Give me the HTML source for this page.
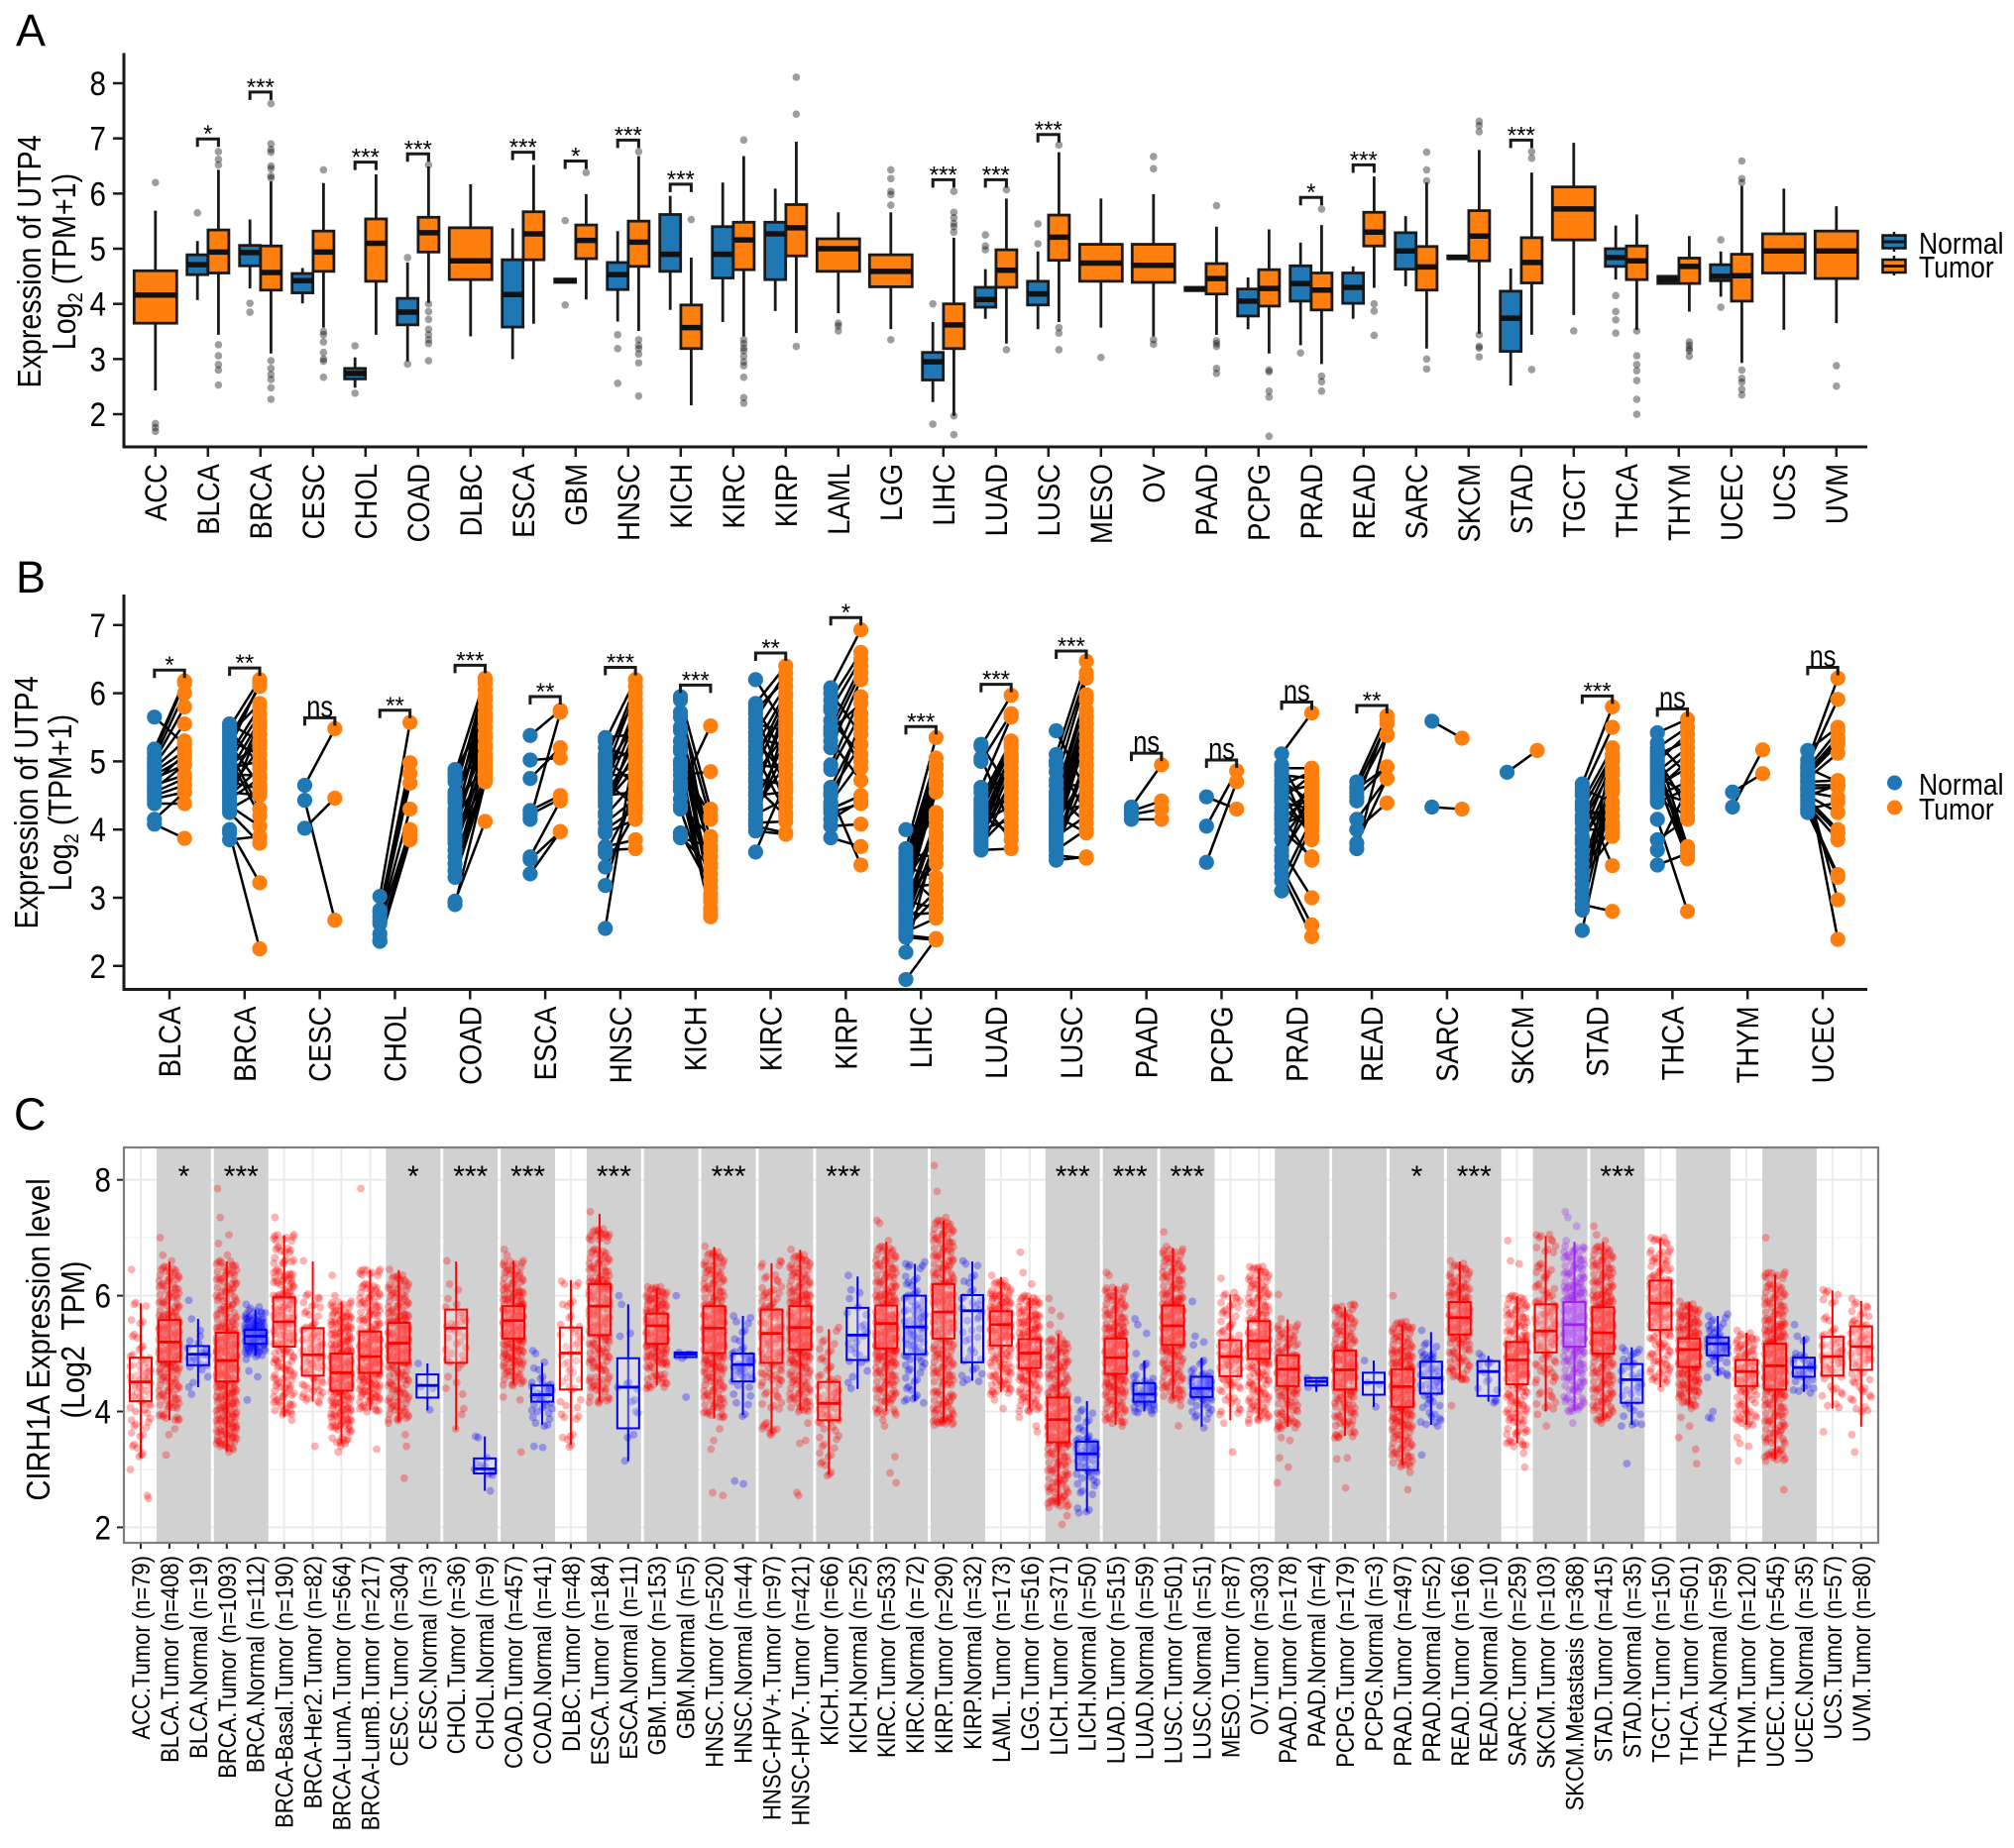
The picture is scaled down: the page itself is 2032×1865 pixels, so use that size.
<!DOCTYPE html>
<html lang="en">
<head>
<meta charset="utf-8">
<title>UTP4 and CIRH1A expression across cancer types</title>
<style>
html,body{margin:0;padding:0;background:#fff}
svg{display:block}
text{font-family:"Liberation Sans",sans-serif;fill:#000}
</style>
</head>
<body>
<svg id="figure" xmlns="http://www.w3.org/2000/svg" width="2032" height="1865" viewBox="0 0 2032 1865">
<rect width="2032" height="1865" fill="#fff"/>
<text x="16" y="46" font-size="45">A</text>
<text x="16" y="598" font-size="45">B</text>
<text x="14" y="1140" font-size="45">C</text>
<text transform="translate(41 264) rotate(-90) scale(.87 1)" text-anchor="middle" font-size="33">Expression of UTP4</text>
<text transform="translate(76 264) rotate(-90) scale(.87 1)" text-anchor="middle" font-size="33">Log<tspan font-size="21" dy="7">2</tspan><tspan dy="-7"> (TPM+1)</tspan></text>
<text transform="translate(38 810) rotate(-90) scale(.87 1)" text-anchor="middle" font-size="33">Expression of UTP4</text>
<text transform="translate(72 810) rotate(-90) scale(.87 1)" text-anchor="middle" font-size="33">Log<tspan font-size="21" dy="7">2</tspan><tspan dy="-7"> (TPM+1)</tspan></text>
<text transform="translate(50 1352) rotate(-90) scale(.87 1)" text-anchor="middle" font-size="33.5">CIRH1A Expression level</text>
<text transform="translate(85 1352) rotate(-90) scale(.87 1)" text-anchor="middle" font-size="33" xml:space="preserve">(Log2  TPM)</text>
<g id="panelA"></g>
<g id="panelB"></g>
<g id="panelC"></g>
<g>
  <g>
    <line x1="1911" x2="1911" y1="234" y2="254" stroke="#111" stroke-width="2.5"/>
    <rect x="1899.5" y="237.5" width="23" height="13" fill="#1f77b4" stroke="#111" stroke-width="2.5"/>
    <line x1="1899" x2="1923" y1="244" y2="244" stroke="#111" stroke-width="3"/>
    <text transform="translate(1936 256) scale(.87 1)" font-size="30.5">Normal</text>
  </g>
  <g>
    <line x1="1911" x2="1911" y1="258" y2="278" stroke="#111" stroke-width="2.5"/>
    <rect x="1899.5" y="262" width="23" height="13" fill="#ff7f0e" stroke="#111" stroke-width="2.5"/>
    <line x1="1899" x2="1923" y1="268.5" y2="268.5" stroke="#111" stroke-width="3"/>
    <text transform="translate(1936 280) scale(.87 1)" font-size="30.5">Tumor</text>
  </g>
</g>
<g>
  <g>
    <circle cx="1911.5" cy="790" r="7.5" fill="#1f77b4"/>
    <text transform="translate(1936 802) scale(.87 1)" font-size="30.5">Normal</text>
  </g>
  <g>
    <circle cx="1911.5" cy="815" r="7.5" fill="#ff7f0e"/>
    <text transform="translate(1936 827) scale(.87 1)" font-size="30.5">Tumor</text>
  </g>
</g>
</svg>
<script>
/* ---------- Panel A data: [whisker low, Q1, median, Q3, whisker high] ---------- */
const categoriesA = ["ACC","BLCA","BRCA","CESC","CHOL","COAD","DLBC","ESCA","GBM","HNSC","KICH","KIRC","KIRP","LAML","LGG","LIHC","LUAD","LUSC","MESO","OV","PAAD","PCPG","PRAD","READ","SARC","SKCM","STAD","TGCT","THCA","THYM","UCEC","UCS","UVM"];
const yTicksA = [2,3,4,5,6,7,8];
const normalStatsA = [null,[4.07,4.53,4.71,4.89,5.14],[4.28,4.69,4.93,5.06,5.53],[4.01,4.2,4.42,4.55,4.65],[2.48,2.64,2.74,2.83,3.03],[2.96,3.62,3.85,4.1,4.75],null,[3.0,3.58,4.17,4.8,5.37],[4.38,4.39,4.42,4.45,4.46],[3.68,4.26,4.53,4.75,5.32],[3.89,4.59,4.9,5.62,5.96],[3.67,4.47,4.9,5.4,6.2],[3.87,4.44,5.27,5.48,6.09],null,null,[2.22,2.62,2.95,3.12,3.67],[3.73,3.94,4.08,4.3,4.63],[3.54,3.98,4.18,4.41,4.95],null,null,[4.23,4.24,4.27,4.3,4.31],[3.54,3.78,4.05,4.27,4.48],[3.25,4.05,4.37,4.69,5.11],[3.73,4.01,4.3,4.56,4.68],[4.32,4.63,4.96,5.29,5.59],[4.81,4.82,4.84,4.87,4.88],[2.52,3.14,3.74,4.23,4.64],null,[4.44,4.68,4.84,5.0,5.42],[4.36,4.37,4.44,4.5,4.52],[4.13,4.42,4.5,4.71,4.95],null,null];
const tumorStatsA = [[2.43,3.65,4.16,4.6,5.69],[3.44,4.56,4.94,5.34,6.43],[3.1,4.25,4.57,5.05,6.22],[3.57,4.59,4.94,5.32,6.19],[3.44,4.41,5.1,5.54,6.35],[4.02,4.94,5.29,5.57,6.49],[3.41,4.44,4.78,5.38,6.17],[3.64,4.8,5.27,5.67,6.52],[4.08,4.82,5.15,5.43,5.99],[3.51,4.68,5.12,5.5,6.68],[2.16,3.19,3.57,3.98,4.84],[3.41,4.62,5.16,5.48,6.68],[3.47,4.87,5.38,5.8,6.94],[3.83,4.59,5.0,5.18,5.66],[3.54,4.31,4.59,4.89,5.66],[1.97,3.19,3.62,4.0,5.2],[3.28,4.3,4.61,4.98,5.91],[3.67,4.79,5.21,5.61,6.75],[3.57,4.41,4.74,5.08,5.91],[3.41,4.39,4.7,5.08,5.99],[3.44,4.18,4.46,4.73,5.4],[3.1,3.96,4.28,4.62,5.35],[2.91,3.89,4.25,4.56,5.43],[4.29,5.05,5.3,5.66,6.31],[3.19,4.25,4.67,5.04,6.2],[3.46,4.78,5.23,5.69,6.79],[3.44,4.38,4.75,5.2,6.38],[3.8,5.16,5.72,6.12,6.92],[3.53,4.44,4.78,5.05,5.62],[3.86,4.37,4.68,4.83,5.23],[2.93,4.05,4.51,4.9,6.14],[3.53,4.56,4.96,5.27,6.09],[3.65,4.46,4.96,5.32,5.77]];
const normalOutliersA = [[],[5.65],[4.01,3.85],[],[3.24,2.38],[4.84,2.91],[],[],[5.51,3.98],[3.44,3.19,2.56],[],[],[],[],[],[4.0,1.82],[5.25,5.05,4.98],[5.45,5.09],[],[],[],[],[3.11],[],[],[],[],[],[4.15,3.86,3.71,3.47],[],[5.16,3.94],[],[]];
const tumorOutliersA = [[6.2,1.83,1.76,1.69],[6.76,6.62,6.52,3.26,3.06,2.9,2.8,2.53],[7.63,6.9,6.8,6.75,6.5,6.45,6.32,6.28,2.97,2.83,2.72,2.63,2.48,2.27],[6.43,3.5,3.44,3.31,3.12,3.0,2.96,2.67],[],[6.52,4.0,3.86,3.72,3.54,3.44,3.35,3.28,2.97],[],[],[6.38],[6.76,3.35,3.25,3.19,3.09,2.93,2.33],[5.53],[6.97,3.35,3.28,3.2,3.15,3.05,2.95,2.88,2.67,2.3,2.2],[8.11,7.44,3.23],[3.65,3.6,3.51],[6.43,6.27,6.04,5.98,5.79,3.35],[6.04,5.66,5.56,5.46,5.4,5.3,1.97,1.63],[6.07,3.17],[6.88,3.57,3.47,3.17],[3.03],[6.67,6.45,3.35,3.27],[5.78,3.33,3.28,3.23,2.83,2.74],[2.8,2.77,2.42,2.31,1.6],[5.72,2.69,2.59,2.42],[4.0,3.87,3.43],[6.75,6.43,6.23,3.0,2.82],[7.31,7.23,7.12,3.44,3.23,3.2,3.04],[6.76,6.64,2.81],[3.51],[3.51,3.06,2.9,2.79,2.61,2.27,2.0],[3.31,3.25,3.19,3.15,3.05],[6.59,6.27,6.2,2.8,2.65,2.58,2.45,2.35],[],[2.88,2.51]];
const sigNamesA = ["BLCA","BRCA","CHOL","COAD","ESCA","GBM","HNSC","KICH","LIHC","LUAD","LUSC","PRAD","READ","STAD"];
const sigLabelsA = ["*","***","***","***","***","*","***","***","***","***","***","*","***","***"];
const sigHeightsA = [6.99,7.84,6.57,6.72,6.75,6.59,6.97,6.17,6.25,6.25,7.07,5.93,6.52,6.97];

/* ---------- Panel B data: paired values (same index = same patient) ---------- */
const categoriesB = ["BLCA","BRCA","CESC","CHOL","COAD","ESCA","HNSC","KICH","KIRC","KIRP","LIHC","LUAD","LUSC","PAAD","PCPG","PRAD","READ","SARC","SKCM","STAD","THCA","THYM","UCEC"];
const yTicksB = [2,3,4,5,6,7];
const normalPairsB = [
[5.65,5.18,5.12,5.05,5.0,4.95,4.9,4.85,4.8,4.75,4.7,4.65,4.6,4.55,4.5,4.45,4.38,4.15,4.08],
[5.55,5.5,5.45,5.4,5.35,5.3,5.25,5.2,5.15,5.1,5.05,5.0,4.95,4.9,4.85,4.8,4.75,4.7,4.65,4.6,4.55,4.5,4.45,4.4,4.35,4.3,4.25,4.0,3.95,3.85],
[4.65,4.43,4.02],
[3.02,2.82,2.78,2.72,2.66,2.62,2.47,2.38,2.36],
[4.88,4.82,4.76,4.7,4.55,4.5,4.45,4.4,4.3,4.25,4.2,4.15,4.1,4.05,4.0,3.95,3.9,3.85,3.8,3.7,3.6,3.5,3.4,3.3,2.95,2.9],
[5.38,5.02,4.75,4.28,4.22,4.15,3.6,3.56,3.35],
[5.35,5.3,5.2,5.1,5.05,5.0,4.95,4.9,4.85,4.8,4.75,4.7,4.65,4.6,4.55,4.5,4.45,4.4,4.35,4.25,4.2,4.1,4.0,3.95,3.75,3.7,3.65,3.45,3.18,2.55],
[5.95,5.9,5.72,5.65,5.45,5.2,5.15,4.95,4.88,4.8,4.65,4.58,4.45,4.35,4.3,3.95,3.9,3.88,4.6,4.7,5.0,5.3,5.5],
[6.2,5.85,5.8,5.75,5.7,5.62,5.55,5.5,5.42,5.35,5.3,5.22,5.15,5.1,5.02,4.95,4.9,4.82,4.75,4.7,4.62,4.55,4.5,4.42,4.35,4.3,4.22,4.15,4.1,4.05,3.98,3.67],
[6.08,6.0,5.9,5.8,5.75,5.6,5.5,5.45,5.4,5.3,5.2,4.95,4.88,4.62,4.55,4.5,4.4,4.35,4.3,4.25,4.15,4.05,3.88],
[4.0,3.72,3.65,3.6,3.55,3.5,3.45,3.4,3.35,3.3,3.25,3.2,3.15,3.1,3.05,3.0,2.95,2.9,2.85,2.8,2.75,2.7,2.65,2.6,2.55,2.5,2.45,2.42,2.2,1.8],
[5.25,5.22,5.05,5.0,4.62,4.55,4.45,4.4,4.35,4.3,4.25,4.2,4.15,4.1,4.05,4.0,3.95,3.9,3.85,3.8,3.75,3.7],
[5.45,5.1,5.0,4.95,4.85,4.72,4.65,4.55,4.5,4.45,4.4,4.35,4.3,4.25,4.2,4.15,4.1,4.05,4.0,3.95,3.9,3.85,3.8,3.75,3.7,3.62,3.55],
[4.33,4.27,4.22,4.15],
[4.48,4.05,3.52],
[5.11,4.95,4.9,4.85,4.8,4.72,4.65,4.6,4.55,4.5,4.45,4.4,4.32,4.25,4.2,4.15,4.08,4.0,3.95,3.85,3.7,3.62,3.55,3.45,3.35,3.25,3.1],
[4.7,4.62,4.55,4.48,4.42,4.15,4.0,3.8,3.72,4.6],
[5.59,4.33],
[4.84],
[4.67,4.6,4.55,4.5,4.4,4.35,4.3,4.2,4.15,4.1,4.0,3.9,3.85,3.8,3.7,3.6,3.5,3.4,3.3,3.2,3.1,3.0,2.9,2.82,2.52],
[5.42,5.27,5.2,5.15,5.1,5.05,5.0,4.95,4.9,4.85,4.8,4.75,4.7,4.65,4.6,4.55,4.5,4.45,4.4,4.15,3.85,3.7,3.48],
[4.55,4.33],
[5.16,5.02,4.95,4.9,4.85,4.8,4.75,4.7,4.65,4.6,4.55,4.5,4.45,4.4,4.35,4.3,4.25,4.6,4.7,4.5,4.3,4.8,4.9]
];
const tumorPairsB = [
[5.25,6.18,6.15,6.0,5.8,5.55,5.3,5.15,5.05,4.95,5.1,4.8,4.95,4.75,4.65,4.55,4.38,4.55,3.87],
[5.3,6.2,4.95,5.85,6.1,5.1,4.65,6.15,4.3,5.8,4.2,5.7,5.25,5.0,5.6,4.8,5.4,4.6,5.55,5.2,4.5,4.9,4.75,5.5,4.05,4.55,3.8,3.22,2.25,3.9],
[5.48,2.67,4.46],
[5.57,4.98,4.82,4.68,4.3,4.0,3.92,3.85,3.85],
[5.6,6.22,5.05,5.95,6.15,5.4,5.8,4.9,6.05,5.2,5.7,4.85,5.9,5.35,5.5,4.95,5.65,4.75,5.25,5.1,4.72,5.0,4.8,4.7,4.12,4.7],
[5.75,5.05,5.2,4.5,4.45,5.72,4.42,3.97,3.97],
[5.4,6.2,5.05,5.9,4.65,6.1,5.2,5.55,6.0,4.8,5.7,4.35,5.8,5.0,5.6,4.55,5.3,4.9,5.15,5.5,4.7,4.45,4.3,4.15,3.85,3.72,4.5,4.25,4.7,5.3],
[4.3,3.5,4.15,2.95,3.85,3.05,3.7,4.2,2.85,4.85,3.35,5.52,3.6,3.9,3.0,3.15,3.45,3.75,2.8,2.75,2.72,3.25,3.6],
[5.5,6.4,5.05,6.2,4.6,6.3,5.45,4.35,6.1,5.22,4.8,6.0,5.7,4.25,5.95,4.9,5.85,5.4,4.65,5.62,4.2,5.8,4.55,5.3,4.95,5.15,4.45,5.55,4.12,3.95,3.93,4.7],
[6.93,5.4,6.6,4.9,6.5,5.1,6.4,5.85,6.3,4.72,6.2,5.95,5.7,5.5,5.25,3.48,5.0,5.6,4.5,4.38,4.42,4.08,3.75],
[4.2,5.35,3.6,5.05,4.25,4.95,3.3,4.9,2.95,4.8,3.95,4.7,3.2,4.65,3.5,4.55,2.85,4.15,3.75,4.05,2.78,3.85,3.1,3.7,3.0,2.7,2.4,2.38,3.9,2.4],
[4.55,5.97,4.05,5.7,5.65,4.8,5.3,3.85,5.25,4.45,5.2,3.95,5.1,4.35,5.05,4.15,5.0,4.7,4.9,4.25,4.65,3.72],
[4.55,6.47,4.25,6.3,5.25,6.22,4.65,5.98,4.1,5.9,5.15,5.75,4.35,5.65,3.95,5.55,4.85,5.45,4.45,5.35,4.2,5.05,4.95,4.75,4.0,3.58,3.6],
[4.95,4.42,4.3,4.15],
[4.3,4.86,4.7],
[5.71,4.2,4.9,3.85,4.75,4.4,4.85,4.1,4.65,3.9,4.8,4.3,4.0,4.55,3.55,4.5,4.25,3.6,4.7,4.45,3.0,4.35,4.6,2.6,2.43,4.15,4.05],
[5.67,5.55,5.38,4.92,5.6,4.75,4.39,4.75,5.4,4.92],
[5.34,4.3],
[5.16],
[5.8,4.4,5.5,3.47,5.2,4.1,5.1,4.3,5.05,4.9,4.0,5.0,4.55,4.8,3.95,4.2,4.7,4.05,3.9,4.6,5.1,4.85,2.8,4.65,4.6],
[5.62,4.8,5.5,3.75,5.3,4.3,5.4,3.7,3.6,5.2,4.5,5.1,3.57,4.9,5.0,4.4,4.7,4.2,4.6,2.8,4.15,4.6,3.65],
[4.82,5.17],
[5.5,6.22,5.91,5.45,5.35,5.25,5.12,4.72,4.65,4.62,4.47,4.25,4.0,3.95,3.85,3.34,3.3,2.97,2.39,4.65,4.4,5.3,4.7]
];
const sigNamesB = ["BLCA","BRCA","CESC","CHOL","COAD","ESCA","HNSC","KICH","KIRC","KIRP","LIHC","LUAD","LUSC","PAAD","PCPG","PRAD","READ","STAD","THCA","UCEC"];
const sigLabelsB = ["*","**","ns","**","***","**","***","***","**","*","***","***","***","ns","ns","ns","**","***","ns","ns"];
const sigHeightsB = [6.34,6.37,5.64,5.75,6.41,5.95,6.38,6.12,6.59,7.11,5.51,6.13,6.62,5.12,5.02,5.87,5.82,5.96,5.77,6.38];

/* ---------- Panel C data ---------- */
const labelsC = ["ACC.Tumor (n=79)","BLCA.Tumor (n=408)","BLCA.Normal (n=19)","BRCA.Tumor (n=1093)","BRCA.Normal (n=112)","BRCA-Basal.Tumor (n=190)","BRCA-Her2.Tumor (n=82)","BRCA-LumA.Tumor (n=564)","BRCA-LumB.Tumor (n=217)","CESC.Tumor (n=304)","CESC.Normal (n=3)","CHOL.Tumor (n=36)","CHOL.Normal (n=9)","COAD.Tumor (n=457)","COAD.Normal (n=41)","DLBC.Tumor (n=48)","ESCA.Tumor (n=184)","ESCA.Normal (n=11)","GBM.Tumor (n=153)","GBM.Normal (n=5)","HNSC.Tumor (n=520)","HNSC.Normal (n=44)","HNSC-HPV+.Tumor (n=97)","HNSC-HPV-.Tumor (n=421)","KICH.Tumor (n=66)","KICH.Normal (n=25)","KIRC.Tumor (n=533)","KIRC.Normal (n=72)","KIRP.Tumor (n=290)","KIRP.Normal (n=32)","LAML.Tumor (n=173)","LGG.Tumor (n=516)","LICH.Tumor (n=371)","LICH.Normal (n=50)","LUAD.Tumor (n=515)","LUAD.Normal (n=59)","LUSC.Tumor (n=501)","LUSC.Normal (n=51)","MESO.Tumor (n=87)","OV.Tumor (n=303)","PAAD.Tumor (n=178)","PAAD.Normal (n=4)","PCPG.Tumor (n=179)","PCPG.Normal (n=3)","PRAD.Tumor (n=497)","PRAD.Normal (n=52)","READ.Tumor (n=166)","READ.Normal (n=10)","SARC.Tumor (n=259)","SKCM.Tumor (n=103)","SKCM.Metastasis (n=368)","STAD.Tumor (n=415)","STAD.Normal (n=35)","TGCT.Tumor (n=150)","THCA.Tumor (n=501)","THCA.Normal (n=59)","THYM.Tumor (n=120)","UCEC.Tumor (n=545)","UCEC.Normal (n=35)","UCS.Tumor (n=57)","UVM.Tumor (n=80)"];
const yTicksC = [2,4,6,8];
const minorTicksC = [3,5,7];
const statsC = [[3.2,4.18,4.51,4.93,5.87],[3.85,4.86,5.2,5.58,6.59],[4.42,4.8,4.99,5.13,5.6],[3.31,4.52,4.88,5.36,6.59],[4.96,5.17,5.3,5.41,5.76],[3.91,5.12,5.55,5.97,7.04],[4.17,4.62,4.98,5.44,6.59],[3.45,4.36,4.67,5.0,5.9],[4.02,4.67,4.95,5.38,6.44],[3.82,4.84,5.18,5.53,6.44],[4.02,4.24,4.45,4.64,4.83],[3.68,4.84,5.44,5.76,6.59],[2.63,2.93,3.01,3.19,3.57],[4.48,5.26,5.57,5.82,6.6],[3.77,4.17,4.29,4.45,4.84],[3.42,4.38,5.01,5.45,6.27],[4.17,5.32,5.82,6.2,7.41],[3.14,3.71,4.42,4.92,5.85],[4.45,5.17,5.48,5.69,6.13],[4.92,4.94,4.99,5.02,5.03],[3.88,5.01,5.44,5.82,6.84],[3.94,4.52,4.81,5.0,5.65],[3.62,4.84,5.35,5.76,6.56],[4.02,5.07,5.45,5.82,6.79],[2.91,3.85,4.14,4.51,5.42],[4.39,4.89,5.32,5.79,6.33],[4.0,5.09,5.52,5.83,6.93],[4.18,4.99,5.46,6.0,6.55],[3.82,5.26,5.72,6.2,7.3],[4.53,4.85,5.74,6.01,6.59],[4.34,5.14,5.5,5.73,6.32],[4.05,4.75,5.01,5.25,5.96],[2.38,3.47,3.86,4.24,5.34],[2.27,2.99,3.27,3.48,4.18],[3.77,4.65,4.93,5.26,6.16],[4.0,4.17,4.3,4.49,4.88],[4.22,5.15,5.48,5.83,6.82],[3.74,4.25,4.4,4.6,4.93],[3.85,4.61,4.95,5.23,6.02],[3.88,4.91,5.22,5.56,6.47],[3.74,4.44,4.73,4.97,5.59],[4.34,4.45,4.52,4.58,4.59],[3.58,4.38,4.72,5.05,5.8],[4.08,4.29,4.5,4.67,4.88],[3.08,4.08,4.43,4.73,5.5],[3.77,4.31,4.58,4.86,5.37],[4.56,5.33,5.62,5.89,6.59],[4.17,4.27,4.69,4.87,4.96],[3.45,4.47,4.89,5.2,5.99],[4.0,5.02,5.39,5.85,7.03],[4.02,5.12,5.5,5.89,6.93],[3.85,5.0,5.36,5.8,6.93],[3.77,4.15,4.55,4.82,5.11],[4.42,5.41,5.87,6.26,6.99],[4.11,4.77,5.07,5.26,5.89],[4.62,4.97,5.17,5.28,5.65],[3.77,4.44,4.69,4.89,5.36],[3.18,4.38,4.79,5.17,6.36],[4.34,4.6,4.76,4.93,5.29],[4.05,4.62,4.95,5.29,6.09],[3.74,4.72,5.12,5.47,5.91]];
const pointsC = [
[6.45,5.85,5.55,5.3,5.1,4.95,4.85,4.75,4.65,4.55,4.5,4.4,4.3,4.2,4.1,4.0,3.85,3.75,3.6,3.4,3.25,3.0,2.55,2.5],
[7.0,6.7,6.6,6.45,6.3,6.15,6.0,5.85,5.7,5.6,5.5,5.4,5.3,5.2,5.1,5.0,4.9,4.8,4.7,4.55,4.4,4.25,4.1,3.9,3.7,3.6,3.25],
[5.92,5.6,5.3,5.22,5.18,5.1,5.05,5.0,4.98,4.95,4.9,4.85,4.8,4.72,4.6,4.5,4.42,4.3,5.4],
[7.85,7.35,7.05,6.9,6.7,6.55,6.4,6.25,6.1,5.95,5.8,5.65,5.5,5.4,5.3,5.2,5.1,5.0,4.9,4.8,4.7,4.6,4.5,4.4,4.3,4.2,4.1,4.0,3.9,3.8,3.7,3.6,3.5,3.4,3.3],
[5.85,5.75,5.65,5.6,5.55,5.5,5.45,5.4,5.35,5.3,5.25,5.2,5.15,5.1,5.05,5.0,4.9,4.7,4.6,4.2],
[7.35,7.05,7.0,6.8,6.6,6.4,6.3,6.2,6.05,5.95,5.8,5.65,5.5,5.35,5.2,5.05,4.9,4.75,4.6,4.45,4.3,4.15,4.0,3.85],
[6.6,6.0,5.85,5.7,5.5,5.4,5.3,5.2,5.1,5.0,4.9,4.8,4.7,4.6,4.5,4.4,4.3,4.2,3.4],
[6.35,6.0,5.85,5.7,5.6,5.5,5.4,5.3,5.2,5.1,5.0,4.9,4.8,4.7,4.6,4.5,4.4,4.3,4.2,4.1,4.0,3.9,3.8,3.7,3.5,3.4,3.3],
[7.85,6.45,6.4,6.15,6.0,5.85,5.7,5.55,5.4,5.3,5.2,5.1,5.0,4.9,4.8,4.7,4.6,4.5,4.4,4.3,4.2,4.05,3.35],
[6.45,6.3,6.15,6.0,5.85,5.7,5.6,5.5,5.4,5.3,5.2,5.1,5.0,4.9,4.8,4.65,4.5,4.35,4.2,4.05,3.9,3.8,3.6,3.4,2.85],
[4.83,4.43,4.03],
[6.6,6.2,6.1,5.95,5.85,5.8,5.7,5.6,5.55,5.5,5.45,5.4,5.3,5.2,5.1,5.0,4.9,4.85,4.75,4.6,4.5,4.4,4.3,4.05,3.95,3.7],
[3.57,3.55,3.2,3.1,3.05,3.0,2.95,2.9,2.63],
[6.8,6.7,6.55,6.4,6.25,6.1,6.0,5.9,5.8,5.7,5.6,5.5,5.4,5.3,5.2,5.1,5.0,4.9,4.8,4.65,4.5,4.25,4.2,3.3],
[5.05,5.0,4.85,4.75,4.6,4.5,4.45,4.4,4.35,4.3,4.25,4.2,4.15,4.1,4.05,4.0,3.9,3.8,3.75,3.4,3.38],
[6.25,6.2,5.9,5.85,5.65,5.5,5.4,5.3,5.15,5.0,4.85,4.7,4.55,4.4,4.2,4.1,3.95,3.9,3.6,3.55,3.42],
[7.45,7.1,7.0,6.75,6.6,6.45,6.3,6.2,6.1,5.95,5.8,5.65,5.5,5.35,5.2,5.05,4.9,4.75,4.55,4.4,4.2],
[6.0,5.85,5.35,5.3,4.5,4.42,4.2,4.0,3.6,3.55,3.15],
[6.15,6.1,6.0,5.9,5.8,5.7,5.6,5.5,5.4,5.3,5.2,5.1,5.0,4.9,4.8,4.6,4.45],
[6.0,5.02,4.99,4.95,4.25],
[6.85,6.7,6.55,6.4,6.25,6.1,5.95,5.8,5.7,5.6,5.5,5.4,5.3,5.2,5.1,5.0,4.9,4.8,4.7,4.55,4.4,4.25,4.1,3.95,3.7,3.5,3.35,2.6,2.55],
[5.65,5.55,5.4,5.25,5.1,5.0,4.95,4.9,4.85,4.8,4.75,4.7,4.65,4.6,4.55,4.45,4.3,4.15,3.95,2.8,2.75],
[6.55,6.3,6.1,6.0,5.85,5.75,5.65,5.5,5.4,5.3,5.2,5.05,4.95,4.85,4.7,4.6,4.5,4.3,4.1,3.75,3.65],
[6.8,6.65,6.5,6.35,6.2,6.05,5.95,5.85,5.75,5.6,5.5,5.4,5.3,5.2,5.1,5.0,4.9,4.8,4.65,4.5,4.35,4.2,4.05,3.8,3.5,3.45,2.6,2.55],
[5.42,5.2,5.05,4.9,4.75,4.6,4.5,4.4,4.3,4.2,4.15,4.1,4.0,3.9,3.85,3.7,3.55,3.4,3.25,3.1,2.92],
[6.35,6.1,6.05,5.95,5.8,5.7,5.5,5.4,5.3,5.2,5.1,5.0,4.9,4.85,4.7,4.6,4.5,4.4],
[7.3,7.25,6.95,6.8,6.65,6.5,6.35,6.2,6.05,5.95,5.85,5.7,5.6,5.5,5.4,5.3,5.2,5.1,5.0,4.9,4.8,4.65,4.5,4.35,4.2,4.0,3.85,3.75,3.22,2.94,2.77],
[6.55,6.5,6.3,6.2,6.05,5.95,5.8,5.7,5.6,5.5,5.4,5.3,5.2,5.1,5.0,4.9,4.8,4.7,4.55,4.4,4.25,4.18],
[8.25,7.8,7.35,7.25,7.1,6.95,6.8,6.65,6.5,6.35,6.2,6.05,5.95,5.85,5.7,5.55,5.4,5.25,5.1,4.95,4.8,4.65,4.5,4.3,4.15,4.0,3.85,3.82],
[6.6,6.55,6.35,6.25,6.1,5.95,5.85,5.75,5.6,5.4,5.25,5.05,4.9,4.75,4.65,4.55,4.5],
[6.35,6.2,6.05,5.95,5.85,5.75,5.65,5.55,5.45,5.35,5.25,5.1,4.95,4.8,4.65,4.5,4.35,4.2,4.05],
[6.75,6.4,6.2,5.95,5.85,5.7,5.6,5.5,5.4,5.3,5.2,5.1,5.0,4.9,4.8,4.7,4.6,4.5,4.35,4.2,4.05,3.9,3.75,3.65],
[5.95,5.75,5.65,5.5,5.35,5.2,5.05,4.9,4.75,4.6,4.45,4.3,4.2,4.1,4.0,3.9,3.8,3.7,3.6,3.5,3.4,3.25,3.1,2.95,2.8,2.65,2.5,2.4,2.2,2.05],
[4.2,4.0,3.85,3.7,3.55,3.5,3.45,3.4,3.35,3.3,3.25,3.2,3.1,3.0,2.95,2.85,2.75,2.6,2.3,2.25],
[6.4,6.35,6.1,5.95,5.8,5.65,5.5,5.4,5.3,5.2,5.1,5.0,4.9,4.8,4.7,4.6,4.5,4.4,4.3,4.15,4.0,3.85,3.75],
[5.6,5.5,5.35,5.0,4.8,4.6,4.5,4.45,4.4,4.35,4.3,4.25,4.2,4.15,4.1,4.05,4.0,3.98],
[7.1,6.85,6.75,6.6,6.45,6.3,6.15,6.0,5.9,5.8,5.7,5.6,5.5,5.4,5.3,5.2,5.1,5.0,4.85,4.7,4.55,4.4,4.25,4.1,3.75],
[5.9,5.3,5.2,5.15,4.85,4.7,4.6,4.55,4.5,4.45,4.4,4.35,4.3,4.25,4.2,4.1,4.0,3.9,3.72],
[6.3,6.0,5.85,5.7,5.5,5.35,5.2,5.1,5.0,4.95,4.85,4.75,4.6,4.5,4.4,4.2,4.0,3.8,3.3],
[6.5,6.45,6.3,6.15,6.0,5.85,5.7,5.55,5.4,5.3,5.2,5.1,5.0,4.9,4.8,4.65,4.5,4.35,4.2,4.05,3.9,3.8],
[6.02,5.6,5.45,5.3,5.15,5.0,4.9,4.8,4.7,4.6,4.5,4.4,4.3,4.15,4.0,3.85,3.75,3.55,3.5,3.2,3.04,2.77],
[4.58,4.54,4.5,4.42],
[5.8,5.65,5.5,5.35,5.2,5.05,4.95,4.85,4.75,4.65,4.55,4.4,4.25,4.1,3.95,3.8,3.6,3.55,3.2,3.18,2.68],
[4.88,4.5,4.08],
[6.0,5.5,5.4,5.25,5.1,5.0,4.9,4.8,4.7,4.6,4.5,4.4,4.3,4.2,4.1,4.0,3.9,3.8,3.7,3.55,3.4,3.25,3.1,2.95,2.65],
[5.4,5.15,5.0,4.95,4.9,4.8,4.7,4.6,4.5,4.4,4.3,4.2,4.1,3.95,3.85,3.78,3.25],
[6.6,6.5,6.35,6.2,6.1,6.0,5.9,5.8,5.7,5.6,5.5,5.4,5.3,5.2,5.05,4.9,4.75,4.6,4.55,4.1],
[5.0,4.95,4.85,4.7,4.55,4.4,4.2,4.18,4.15,4.85],
[6.95,6.6,6.55,5.95,5.8,5.65,5.5,5.35,5.2,5.1,5.0,4.9,4.8,4.7,4.6,4.45,4.3,4.15,4.0,3.85,3.65,3.45,3.28,3.04],
[7.05,7.0,6.8,6.5,6.35,6.15,6.0,5.85,5.7,5.55,5.4,5.3,5.15,5.0,4.85,4.7,4.55,4.3,4.1,3.95,3.75],
[7.45,7.35,7.2,6.95,6.8,6.65,6.5,6.35,6.2,6.1,6.0,5.9,5.8,5.7,5.6,5.5,5.4,5.3,5.2,5.1,5.0,4.85,4.7,4.55,4.4,4.2,4.05,3.8],
[7.2,7.05,6.95,6.8,6.65,6.5,6.35,6.2,6.05,5.95,5.85,5.75,5.65,5.55,5.45,5.35,5.25,5.15,5.05,4.95,4.8,4.65,4.5,4.35,4.2,4.05,3.9,3.8],
[5.1,5.05,5.0,4.9,4.8,4.7,4.6,4.5,4.4,4.3,4.15,4.05,3.95,3.8,3.78,3.1],
[7.0,6.95,6.75,6.6,6.45,6.3,6.2,6.1,6.0,5.9,5.8,5.7,5.6,5.45,5.3,5.15,5.0,4.85,4.7,4.55,4.4],
[5.9,5.8,5.7,5.6,5.5,5.4,5.3,5.2,5.1,5.0,4.9,4.8,4.7,4.6,4.5,4.4,4.3,4.15,4.05,3.9,3.75,3.55,3.35,3.1],
[5.65,5.55,5.45,5.4,5.3,5.25,5.2,5.15,5.1,5.05,5.0,4.95,4.85,4.7,4.62,4.0,3.9,3.88],
[5.4,5.3,5.2,5.1,5.0,4.9,4.8,4.7,4.6,4.5,4.4,4.3,4.15,4.0,3.9,3.8,3.55,3.45,3.4,3.15],
[7.0,6.4,6.35,6.15,6.0,5.85,5.7,5.55,5.45,5.35,5.25,5.15,5.05,4.95,4.85,4.75,4.65,4.55,4.45,4.35,4.25,4.1,3.95,3.8,3.65,3.5,3.3,3.2,2.65],
[5.5,5.3,5.25,5.0,4.95,4.9,4.85,4.8,4.75,4.7,4.65,4.6,4.55,4.45,4.4,4.35],
[6.1,6.05,5.9,5.6,5.4,5.3,5.2,5.1,5.0,4.9,4.8,4.7,4.6,4.4,4.3,4.1,3.65],
[5.95,5.85,5.7,5.55,5.45,5.35,5.25,5.15,5.05,4.95,4.85,4.7,4.55,4.4,4.25,4.05,3.6,3.3]
];
const bandNamesC = ["BLCA","BRCA","CESC","CHOL","COAD","ESCA","GBM","HNSC","HNSC-HPV","KICH","KIRC","KIRP","LICH","LUAD","LUSC","PAAD","PCPG","PRAD","READ","SKCM","STAD","THCA","UCEC"];
const bandFirstC = [1,3,9,11,13,16,18,20,22,24,26,28,32,34,36,40,42,44,46,49,51,54,57];
const sigBandNamesC = ["BLCA","BRCA","CESC","CHOL","COAD","ESCA","HNSC","KICH","LICH","LUAD","LUSC","PRAD","READ","STAD"];
const sigBandLabelsC = ["*","***","*","***","***","***","***","***","***","***","***","*","***","***"];

/* ---------- Drawing ---------- */
const NS = 'http://www.w3.org/2000/svg';
function add(parent, tag, attrs, txt){
  const el = document.createElementNS(NS, tag);
  for (const k in attrs) el.setAttribute(k, attrs[k]);
  if (txt !== undefined) el.textContent = txt;
  parent.appendChild(el);
  return el;
}
const INK = '#1a1a1a';
const BLUE = '#1f77b4';
const ORANGE = '#ff7f0e';

/* Shared axes for panels A and B */
function drawAxes(g, prefix, left, right, top, bottom, yScale, yTicks, xScale, cats){
  let el = add(g,'line',{x1:left,x2:left,y1:top,y2:bottom+1.5,stroke:INK,'stroke-width':3});
  
  
  el = add(g,'line',{x1:left-1.5,x2:right,y1:bottom,y2:bottom,stroke:INK,'stroke-width':3});
  
  
  yTicks.forEach(function(t){
    let m = add(g,'line',{x1:left-11,x2:left,y1:yScale(t),y2:yScale(t),stroke:INK,'stroke-width':2.5});
    
    
    let l = add(g,'text',{transform:'translate('+(left-18)+' '+(yScale(t)+12)+') scale(.87 1)','text-anchor':'end','font-size':34},String(t));
    
    
  });
  cats.forEach(function(c,i){
    let m = add(g,'line',{x1:xScale(i),x2:xScale(i),y1:bottom,y2:bottom+10,stroke:INK,'stroke-width':2.5});
    
    
    let l = add(g,'text',{transform:'translate('+(xScale(i)+11)+' '+(bottom+17)+') rotate(-90) scale(.87 1)','text-anchor':'end','font-size':31.6},c);
    
    
  });
}

/* Significance bracket for panels A and B */
function drawBracket(g, prefix, cx, half, yTop, label){
  let b = add(g,'path',{d:'M'+(cx-half)+' '+(yTop+8)+'V'+yTop+'H'+(cx+half)+'V'+(yTop+8),fill:'none',stroke:INK,'stroke-width':3});
  
  
  const ns = label === 'ns';
  let t = add(g,'text',{transform:'translate('+cx+' '+(ns?yTop-1:yTop+3)+') scale('+(ns?.82:1)+' 1)','text-anchor':'middle','font-size':ns?31:24,fill:'#111'},label);
  
  
}

/* ---- Panel A ---- */
const yA = function(v){ return 84 + (8 - v) * 55.67; };
const xA = function(i){ return 156.8 + i * 53.0; };
function drawBoxA(g, cx, w, s, fill, name){
  const lo=s[0],q1=s[1],med=s[2],q3=s[3],hi=s[4];
  let e = add(g,'line',{x1:cx,x2:cx,y1:yA(hi),y2:yA(lo),stroke:INK,'stroke-width':2.8});
  
  
  e = add(g,'rect',{x:cx-w/2,y:yA(q3),width:w,height:Math.max(1,yA(q1)-yA(q3)),fill:fill,stroke:INK,'stroke-width':2.8});
  
  
  e = add(g,'line',{x1:cx-w/2,x2:cx+w/2,y1:yA(med),y2:yA(med),stroke:'#111','stroke-width':5.5});
  
  
}
function drawOutliersA(g, cx, vals, name){
  vals.forEach(function(v){
    let d = add(g,'circle',{cx:cx,cy:yA(v),r:3.8,fill:'#000','fill-opacity':0.38});
    
    
  });
}
(function(){
  const g = document.getElementById('panelA');
  drawAxes(g,'panel-a',125,1884,53.5,451,yA,yTicksA,xA,categoriesA);
  categoriesA.forEach(function(c,i){
    const n = normalStatsA[i], t = tumorStatsA[i], low = c.toLowerCase();
    const cg = add(g,'g',{});
    
    
    if (n) {
      drawOutliersA(cg, xA(i)-10.6, normalOutliersA[i], low + '-normal');
      drawBoxA(cg, xA(i)-10.6, 21, n, BLUE, low + '-normal');
      drawOutliersA(cg, xA(i)+10.6, tumorOutliersA[i], low + '-tumor');
      drawBoxA(cg, xA(i)+10.6, 21, t, ORANGE, low + '-tumor');
    } else {
      drawOutliersA(cg, xA(i), tumorOutliersA[i], low + '-tumor');
      drawBoxA(cg, xA(i), 43, t, ORANGE, low + '-tumor');
    }
  });
  sigNamesA.forEach(function(c,k){
    drawBracket(g,'panel-a',xA(categoriesA.indexOf(c)),10.6,yA(sigHeightsA[k]),sigLabelsA[k]);
  });
})();

/* ---- Panel B ---- */
const yB = function(v){ return 630.8 + (7 - v) * 68.8; };
const xB = function(i){ return 171 + i * 75.82; };
(function(){
  const g = document.getElementById('panelB');
  drawAxes(g,'panel-b',125,1884,600,998.5,yB,yTicksB,xB,categoriesB);
  categoriesB.forEach(function(c,i){
    const low = c.toLowerCase();
    const nx = xB(i)-15.2, tx = xB(i)+15.2;
    const cg = add(g,'g',{});
    
    
    normalPairsB[i].forEach(function(v,k){
      let l = add(cg,'line',{x1:nx,x2:tx,y1:yB(v),y2:yB(tumorPairsB[i][k]),stroke:'#000','stroke-width':2.5});
      
      
    });
    normalPairsB[i].forEach(function(v){
      let d = add(cg,'circle',{cx:nx,cy:yB(v),r:7.6,fill:BLUE});
      
      
    });
    tumorPairsB[i].forEach(function(v){
      let d = add(cg,'circle',{cx:tx,cy:yB(v),r:7.6,fill:ORANGE});
      
      
    });
  });
  sigNamesB.forEach(function(c,k){
    drawBracket(g,'panel-b',xB(categoriesB.indexOf(c)),15.2,yB(sigHeightsB[k]),sigLabelsB[k]);
  });
})();

/* ---- Panel C ---- */
const yC = function(v){ return 1190.7 + (8 - v) * 58.45; };
const xC = function(i){ return 142 + i * 28.93; };
const JITTER_X = [-.85,.35,-.3,.7,.05,-.6,.9,-.15,.5,-.95,.2,-.45,.8,-.05,.6,-.75];
const JITTER_Y = [0,1.8,-1.8,3.2,-3.2,.9,-.9,2.5,-2.5,0];
(function(){
  const g = document.getElementById('panelC');
  let e = add(g,'rect',{x:125,y:1158,width:1770,height:399,fill:'#fff'});
  
  
  minorTicksC.forEach(function(t){
    let l = add(g,'line',{x1:125,x2:1895,y1:yC(t),y2:yC(t),stroke:'#f2f2f2','stroke-width':1.5});
    
    
  });
  yTicksC.forEach(function(t){
    let l = add(g,'line',{x1:125,x2:1895,y1:yC(t),y2:yC(t),stroke:'#ebebeb','stroke-width':2});
    
    
  });
  labelsC.forEach(function(c,i){
    let l = add(g,'line',{x1:xC(i),x2:xC(i),y1:1158,y2:1557,stroke:'#ebebeb','stroke-width':2});
    
    
  });
  bandNamesC.forEach(function(c,k){
    const f = bandFirstC[k];
    let r = add(g,'rect',{x:xC(f)-13,y:1159,width:28.93+26,height:397,fill:'#d1d1d1'});
    
    
  });
  labelsC.forEach(function(c,i){
    const key = c.split(' ')[0];
    const low = key.toLowerCase().replace(/[.+]/g,'-');
    const col = key.indexOf('Metastasis') > -1 ? '#a020f0' : (key.indexOf('Normal') > -1 ? '#0000ff' : '#ff0000');
    const n = parseInt(c.match(/n=(\d+)/)[1], 10);
    const vals = pointsC[i];
    const s = statsC[i];
    const base = Math.max(1, Math.min(9, Math.round(n / vals.length)));
    const cg = add(g,'g',{});
    
    
    vals.forEach(function(v,k){
      /* denser rows inside the box, lighter in the tails, single dots for outliers */
      let copies = 1;
      if (v >= s[1] && v <= s[3]) copies = Math.round(base * 1.5);
      else if (v >= s[0] && v <= s[4]) copies = base;
      for (let j = 0; j < copies; j++) {
        const seq = k * 5 + j * 3;
        let d = add(cg,'circle',{cx:xC(i)+JITTER_X[seq%16]*11,cy:yC(v)+(copies>1?JITTER_Y[j%10]:0),r:3.9,fill:col,'fill-opacity':0.3});
        
        
      }
    });
    let w = add(cg,'line',{x1:xC(i),x2:xC(i),y1:yC(s[4]),y2:yC(s[0]),stroke:col,'stroke-width':2});
    
    
    let b = add(cg,'rect',{x:xC(i)-11,y:yC(s[3]),width:22,height:yC(s[1])-yC(s[3]),fill:'#fff','fill-opacity':0.28,stroke:col,'stroke-width':2});
    
    
    let m = add(cg,'line',{x1:xC(i)-11,x2:xC(i)+11,y1:yC(s[2]),y2:yC(s[2]),stroke:col,'stroke-width':2.8});
    
    
    let tk = add(g,'line',{x1:xC(i),x2:xC(i),y1:1557,y2:1563,stroke:'#222','stroke-width':2});
    
    
    let tl = add(g,'text',{transform:'translate('+(xC(i)+9)+' 1570) rotate(-90) scale(.87 1)','text-anchor':'end','font-size':25.3},c);
    
    
  });
  sigBandNamesC.forEach(function(c,k){
    const f = bandFirstC[bandNamesC.indexOf(c)];
    let t = add(g,'text',{x:xC(f)+14.5,y:1197,'text-anchor':'middle','font-size':30,fill:'#000'},sigBandLabelsC[k]);
    
    
  });
  yTicksC.forEach(function(t){
    let m = add(g,'line',{x1:118,x2:125,y1:yC(t),y2:yC(t),stroke:'#222','stroke-width':2});
    
    
    let l = add(g,'text',{transform:'translate(112 '+(yC(t)+12)+') scale(.87 1)','text-anchor':'end','font-size':34},String(t));
    
    
  });
  let border = add(g,'rect',{x:125,y:1158,width:1770,height:399,fill:'none',stroke:'#7f7f7f','stroke-width':2.2});
  
  
})();
</script>
</body>
</html>
